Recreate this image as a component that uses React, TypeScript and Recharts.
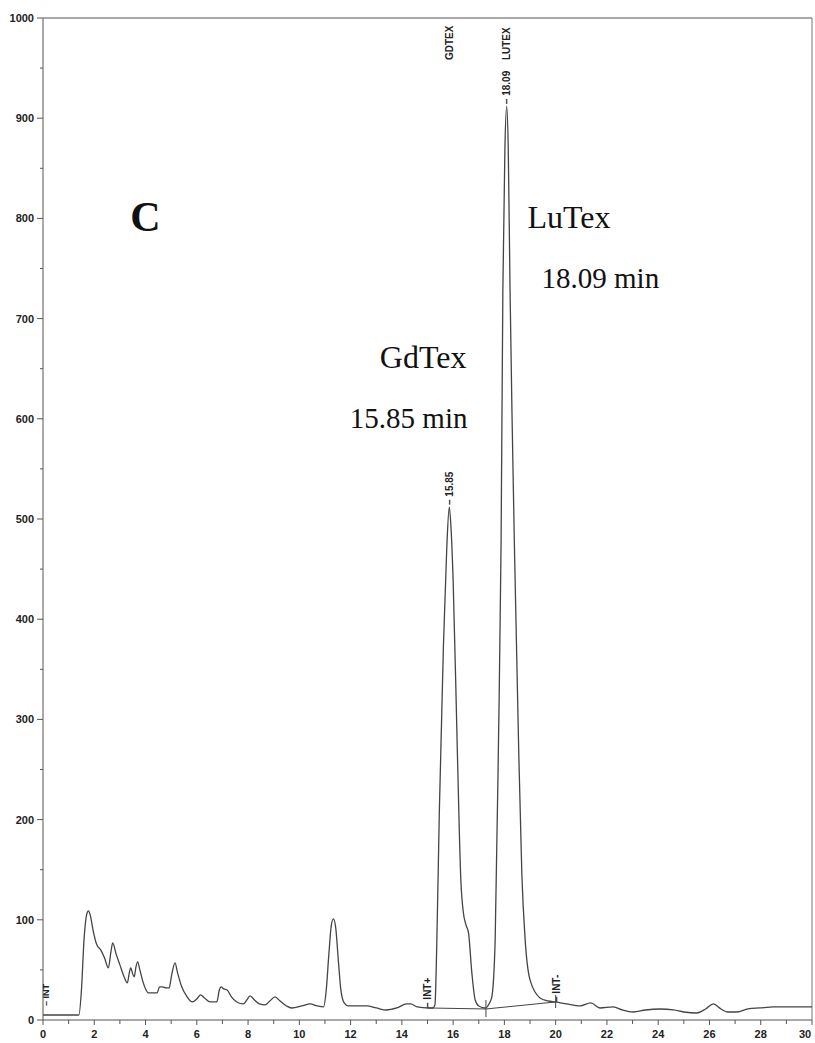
import React from 'react';
import { LineChart, Line, XAxis, YAxis, ReferenceLine, ReferenceDot } from 'recharts';

// Chromatogram trace: retention time (min) and detector response
const times = [
  0.0, 1.0, 1.4, 1.5, 1.6, 1.7, 1.77, 1.85, 1.95, 2.1, 2.25, 2.4, 2.55, 2.65, 2.72, 2.85, 3.0, 3.15, 3.29, 3.36,
  3.42, 3.5, 3.56, 3.62, 3.69, 3.78, 3.9, 4.0, 4.11, 4.3, 4.45, 4.55, 4.65, 4.8, 4.92, 5.02, 5.15, 5.25, 5.4, 5.6,
  5.83, 6.0, 6.15, 6.3, 6.52, 6.78, 6.88, 6.95, 7.05, 7.18, 7.35, 7.56, 7.82, 7.95, 8.08, 8.25, 8.45, 8.66, 8.85, 9.05,
  9.25, 9.5, 9.7, 10.1, 10.42, 10.7, 10.94, 11.05, 11.15, 11.25, 11.33, 11.42, 11.52, 11.62, 11.75, 11.91, 12.3, 12.63, 13.0, 13.4,
  13.8, 14.19, 14.35, 14.6, 15.03, 15.2, 15.29, 15.36, 15.46, 15.62, 15.75, 15.85, 15.92, 16.0, 16.16, 16.3, 16.4, 16.5, 16.6, 16.73,
  16.86, 17.0, 17.25, 17.4, 17.51, 17.64, 17.77, 17.87, 17.94, 18.02, 18.09, 18.15, 18.22, 18.3, 18.39, 18.55, 18.68, 18.81, 19.0, 19.39,
  19.7, 20.0, 20.43, 20.95, 21.37, 21.73, 22.25, 22.6, 23.03, 23.5, 24.07, 24.6, 25.0, 25.5, 25.85, 26.15, 26.45, 26.7, 27.07, 27.5,
  27.97, 28.5, 29.0, 29.93, 30.0,
];
const signal = [
  5, 5, 5, 30, 80, 105, 109, 104, 90, 75, 70, 62, 52, 68, 77, 66, 55, 44, 37, 46,
  52, 46, 43, 52, 58, 50, 38, 31, 27, 27, 27, 33, 33, 32, 32, 45, 57, 47, 34, 24,
  18, 21, 25, 22, 18, 18, 30, 33, 31, 30, 23, 18, 16, 20, 24, 20, 16, 15, 19, 23,
  19, 14, 12, 14, 16, 14, 13, 30, 65, 95, 101, 92, 60, 30, 17, 14, 14, 14, 12, 10,
  12, 16, 16, 13, 12, 12, 15, 73, 206, 372, 470, 512, 490, 439, 273, 140, 107, 95, 87, 47,
  20, 14, 12, 16, 23, 80, 279, 474, 729, 870, 912, 870, 729, 600, 474, 279, 146, 80, 40, 22,
  19, 18, 16, 14, 17, 12, 13, 10, 8, 10, 11, 10, 8, 7, 11, 16, 11, 8, 8, 11,
  12, 13, 13, 13, 13,
];

// Integration baseline drawn by the integrator
const baselineTimes = [15.03, 17.28, 20.0];
const baselineValues = [12, 11, 18];

// Axis ticks
const xTicks = [0, 1, 2, 3, 4, 5, 6, 7, 8, 9, 10, 11, 12, 13, 14, 15, 16, 17, 18, 19, 20, 21, 22, 23, 24, 25, 26, 27, 28, 29, 30];
const yTicks = [0, 50, 100, 150, 200, 250, 300, 350, 400, 450, 500, 550, 600, 650, 700, 750, 800, 850, 900, 950, 1000];

// Peaks
const peakNames = ['GdTex', 'LuTex'];
const peakTimes = [15.85, 18.09];
const peakHeights = [512, 912];

const data = times.map((t, i) => ({ t, v: signal[i] }));
const baselineData = baselineTimes.map((t, i) => ({ t, v: baselineValues[i] }));

const INK = '#444';
const AXIS_FONT = '"Liberation Sans", Arial, sans-serif';
const SERIF = '"Liberation Serif", "Times New Roman", serif';

const YTick = (props: any) => {
  const { x, y, payload } = props;
  const major = payload.value % 100 === 0;
  return (
    <g>
      <line x1={x - (major ? 6 : 3)} x2={x} y1={y} y2={y} stroke="#555" strokeWidth={1} />
      {major && (
        <text x={x - 9} y={y} dy={4} textAnchor="end" fontFamily={AXIS_FONT} fontWeight="bold" fontSize={11} fill="#222">
          {payload.value}
        </text>
      )}
    </g>
  );
};

const XTick = (props: any) => {
  const { x, y, payload } = props;
  const major = payload.value % 2 === 0;
  const labelX = Math.min(x, 805);
  return (
    <g>
      <line x1={x} x2={x} y1={y} y2={y + (major ? 5 : 4)} stroke="#555" strokeWidth={1} />
      {major && (
        <text x={labelX} y={y + 18} textAnchor="middle" fontFamily={AXIS_FONT} fontWeight="bold" fontSize={11} fill="#222">
          {payload.value}
        </text>
      )}
    </g>
  );
};

const center = (props: any) => {
  const vb = props.viewBox || {};
  return { cx: (vb.x ?? 0) + (vb.width ?? 0) / 2, cy: (vb.y ?? 0) + (vb.height ?? 0) / 2 };
};

const serifLabel = (text: string, size: number, anchor: 'start' | 'end', bold = false) => (props: any) => {
  const { cx, cy } = center(props);
  return (
    <text x={cx} y={cy} textAnchor={anchor} fontFamily={SERIF} fontSize={size} fontWeight={bold ? 'bold' : 'normal'} fill="#111">
      {text}
    </text>
  );
};

const vertLabel = (text: string, size = 10) => (props: any) => {
  const { cx, cy } = center(props);
  return (
    <text
      x={cx}
      y={cy}
      dy="0.36em"
      transform={`rotate(-90, ${cx}, ${cy})`}
      textAnchor="start"
      fontFamily={AXIS_FONT}
      fontWeight="bold"
      fontSize={size}
      fill="#222"
    >
      {text}
    </text>
  );
};

export default function App() {
  return (
    <div style={{ position: 'absolute', left: 0, top: 0, width: 815, height: 1043, background: '#fff' }}>
      <LineChart width={815} height={1043} data={data} margin={{ top: 18, right: 3, bottom: 0, left: 0 }}>
        <XAxis
          dataKey="t"
          type="number"
          domain={[0, 30]}
          ticks={xTicks}
          interval={0}
          height={23}
          tickSize={0}
          tickMargin={0}
          tickLine={false}
          tick={<XTick />}
          axisLine={{ stroke: '#555', strokeWidth: 1 }}
          allowDataOverflow
        />
        <YAxis
          type="number"
          domain={[0, 1000]}
          ticks={yTicks}
          interval={0}
          width={43}
          tickSize={0}
          tickMargin={0}
          tickLine={false}
          tick={<YTick />}
          axisLine={{ stroke: '#555', strokeWidth: 1 }}
          allowDataOverflow
        />
        <ReferenceLine y={1000} stroke="#555" strokeWidth={1} ifOverflow="visible" />
        <ReferenceLine x={30} stroke="#777" strokeWidth={1} ifOverflow="visible" />

        <Line
          dataKey="v"
          data={baselineData}
          type="linear"
          stroke={INK}
          strokeWidth={1}
          dot={false}
          activeDot={false}
          isAnimationActive={false}
        />
        <Line
          dataKey="v"
          type="monotone"
          stroke={INK}
          strokeWidth={1.3}
          dot={false}
          activeDot={false}
          isAnimationActive={false}
        />

        {/* integration drop marks */}
        <ReferenceLine segment={[{ x: baselineTimes[1], y: 3 }, { x: baselineTimes[1], y: 20 }]} stroke={INK} strokeWidth={1} />
        <ReferenceLine segment={[{ x: baselineTimes[2], y: 12 }, { x: baselineTimes[2], y: 25 }]} stroke={INK} strokeWidth={1} />

        {/* peak retention labels from the integrator */}
        {peakTimes.map((t, i) => (
          <ReferenceDot key={'rt' + i} x={t} y={peakHeights[i] + 2} r={0} fill="none" stroke="none" label={vertLabel('– ' + t.toFixed(2), 10)} />
        ))}
        {peakTimes.map((t, i) => (
          <ReferenceDot key={'nm' + i} x={t} y={958} r={0} fill="none" stroke="none" label={vertLabel(peakNames[i].toUpperCase(), 10)} />
        ))}
        <ReferenceDot x={0.12} y={14} r={0} fill="none" stroke="none" label={vertLabel('– INT', 9)} />
        <ReferenceDot x={15.0} y={12} r={0} fill="none" stroke="none" label={vertLabel('– INT+', 10)} />
        <ReferenceDot x={20.04} y={18} r={0} fill="none" stroke="none" label={vertLabel('– INT-', 10)} />

        {/* figure annotations */}
        <ReferenceDot x={3.4} y={787} r={0} fill="none" stroke="none" label={serifLabel('C', 42, 'start', true)} />
        <ReferenceDot x={18.9} y={790} r={0} fill="none" stroke="none" label={serifLabel(peakNames[1], 32, 'start')} />
        <ReferenceDot x={19.45} y={731} r={0} fill="none" stroke="none" label={serifLabel(peakTimes[1].toFixed(2) + ' min', 29, 'start')} />
        <ReferenceDot x={16.52} y={651} r={0} fill="none" stroke="none" label={serifLabel(peakNames[0], 32, 'end')} />
        <ReferenceDot x={16.56} y={591} r={0} fill="none" stroke="none" label={serifLabel(peakTimes[0].toFixed(2) + ' min', 29, 'end')} />
      </LineChart>
    </div>
  );
}
